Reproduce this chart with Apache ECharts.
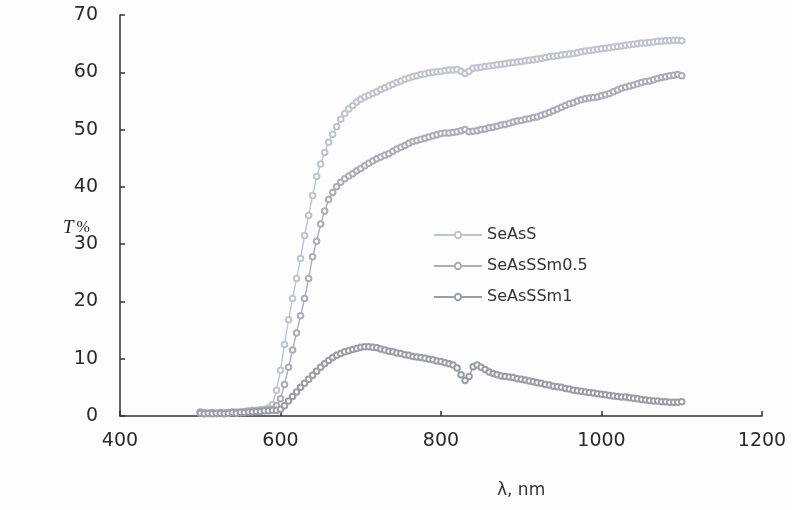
<!DOCTYPE html>
<html>
<head>
<meta charset="utf-8">
<script src="https://cdn.jsdelivr.net/npm/echarts@6/dist/echarts.min.js"></script>
<style>html,body{margin:0;padding:0;background:#fdfdfd;}#c{width:792px;height:510px;}</style>
</head>
<body>
<div id="c"></div>
<script>
const wavelengthStart = 500, wavelengthStep = 5;
const seriesNames = ['SeAsS', 'SeAsSSm0.5', 'SeAsSSm1'];
const xTicks = [400, 600, 800, 1000, 1200];
const yTicks = [0, 10, 20, 30, 40, 50, 60, 70];

const SeAsS = [0.6,0.5,0.4,0.5,0.4,0.5,0.6,0.5,0.6,0.7,0.6,0.8,0.9,1.0,1.0,1.1,1.2,1.4,2.0,4.5,
8.0,12.5,16.8,20.5,24.0,27.5,31.5,35.0,38.5,41.8,44.0,46.0,47.8,49.2,50.5,51.8,52.8,53.6,54.2,54.8,
55.3,55.7,56.0,56.3,56.6,57.0,57.3,57.6,57.9,58.2,58.5,58.8,59.0,59.2,59.4,59.6,59.7,59.9,60.0,60.1,
60.2,60.3,60.4,60.4,60.5,60.2,59.8,60.2,60.7,60.8,60.9,61.0,61.1,61.2,61.3,61.4,61.5,61.6,61.7,61.8,
61.9,62.0,62.1,62.2,62.3,62.4,62.6,62.7,62.8,62.9,63.0,63.1,63.2,63.3,63.4,63.6,63.7,63.8,63.9,64.0,
64.1,64.2,64.3,64.4,64.5,64.6,64.7,64.8,64.9,65.0,65.1,65.1,65.2,65.3,65.4,65.4,65.5,65.5,65.6,65.6,65.5];

const SeAsSSm05 = [0.7,0.6,0.5,0.6,0.5,0.6,0.5,0.6,0.7,0.6,0.7,0.8,0.8,0.9,0.9,1.0,1.0,1.1,1.2,1.8,
3.0,5.5,8.5,11.5,14.5,17.5,20.5,24.0,27.8,30.5,33.5,35.8,37.8,39.0,40.0,40.8,41.4,41.9,42.3,42.8,
43.2,43.7,44.1,44.5,44.9,45.2,45.5,45.8,46.2,46.6,46.9,47.2,47.6,47.9,48.1,48.3,48.5,48.7,48.9,49.1,
49.3,49.4,49.4,49.5,49.6,49.8,50.0,49.6,49.7,49.8,50.0,50.1,50.3,50.4,50.6,50.8,50.9,51.1,51.3,51.5,
51.6,51.8,51.9,52.1,52.2,52.5,52.7,53.0,53.3,53.6,53.9,54.2,54.5,54.7,55.0,55.2,55.4,55.5,55.6,55.7,
55.9,56.1,56.3,56.6,56.9,57.2,57.4,57.6,57.8,58.0,58.2,58.4,58.5,58.7,58.9,59.1,59.2,59.4,59.5,59.6,59.4];

const SeAsSSm1 = [0.5,0.4,0.5,0.4,0.5,0.5,0.4,0.5,0.6,0.5,0.6,0.6,0.7,0.7,0.8,0.8,0.9,0.9,1.0,1.0,
1.2,1.8,2.6,3.4,4.2,5.0,5.7,6.4,7.1,7.8,8.5,9.1,9.7,10.2,10.6,10.9,11.2,11.4,11.6,11.8,
12.0,12.1,12.1,12.0,11.9,11.7,11.5,11.3,11.2,11.0,10.9,10.7,10.6,10.4,10.3,10.2,10.1,9.9,9.8,9.6,
9.5,9.3,9.1,8.9,8.4,7.2,6.2,6.9,8.6,8.9,8.5,8.1,7.7,7.4,7.2,7.0,6.9,6.8,6.7,6.5,
6.4,6.3,6.1,6.0,5.8,5.7,5.5,5.4,5.2,5.1,5.0,4.8,4.7,4.5,4.4,4.3,4.2,4.1,4.0,3.9,
3.8,3.7,3.6,3.5,3.4,3.3,3.3,3.2,3.1,3.0,2.9,2.8,2.7,2.6,2.6,2.5,2.5,2.4,2.4,2.4,2.5];

const colors = ['#c0c4ce', '#abaeb8', '#9c9ea7'];
const values = [SeAsS, SeAsSSm05, SeAsSSm1];

function pairs(arr) {
  return arr.map((v, i) => [wavelengthStart + i * wavelengthStep, v]);
}

const FONT = 'DejaVu Sans, Liberation Sans, Arial, sans-serif';
const chart = echarts.init(document.getElementById('c'), null, {renderer: 'canvas'});
const axisCol = '#333';
chart.setOption({
  backgroundColor: '#fdfdfd',
  animation: false,
  grid: {left: 120, right: 30, top: 15, bottom: 94, containLabel: false},
  legend: {
    orient: 'vertical',
    left: 433, top: 227, padding: 0,
    itemWidth: 48, itemHeight: 8, itemGap: 15,
    textStyle: {fontFamily: FONT, fontSize: 16, color: '#333'},
    data: seriesNames
  },
  xAxis: {
    type: 'value', min: xTicks[0], max: xTicks[xTicks.length - 1], interval: 200,
    axisLine: {show: true, lineStyle: {color: axisCol, width: 1.5}},
    axisTick: {show: true, inside: true, length: 5, lineStyle: {color: axisCol, width: 1.5}},
    axisLabel: {fontFamily: FONT, fontSize: 19, color: '#2a2a2a', margin: 16,
      formatter: v => String(v)},
    splitLine: {show: false}
  },
  yAxis: {
    type: 'value', min: yTicks[0], max: yTicks[yTicks.length - 1], interval: 10,
    axisLine: {show: true, lineStyle: {color: axisCol, width: 1.5}},
    axisTick: {show: true, inside: true, length: 5, lineStyle: {color: axisCol, width: 1.5}},
    axisLabel: {fontFamily: FONT, fontSize: 19, color: '#2a2a2a', margin: 22,
      formatter: v => String(v)},
    splitLine: {show: false}
  },
  graphic: [
    {type: 'text', left: 63, top: 218, style: {
      text: '{i|T}{p|%}',
      rich: {
        i: {fontFamily: 'Liberation Serif, serif', fontStyle: 'italic', fontSize: 19, fill: '#222'},
        p: {fontFamily: 'Liberation Serif, serif', fontSize: 16, fill: '#222', padding: [0,0,0,3]}
      }
    }},
    {type: 'text', left: 497, top: 482, style: {
      text: 'λ, nm', fontFamily: FONT, fontSize: 17, fill: '#333'
    }}
  ],
  series: seriesNames.map((n, k) => ({
    name: n, type: 'line', data: pairs(values[k]),
    symbol: 'emptyCircle', symbolSize: 5.5, showAllSymbol: true,
    itemStyle: {color: colors[k], borderColor: colors[k], borderWidth: 1.1},
    lineStyle: {color: colors[k], width: 1.4}
  }))
});
</script>
</body>
</html>
